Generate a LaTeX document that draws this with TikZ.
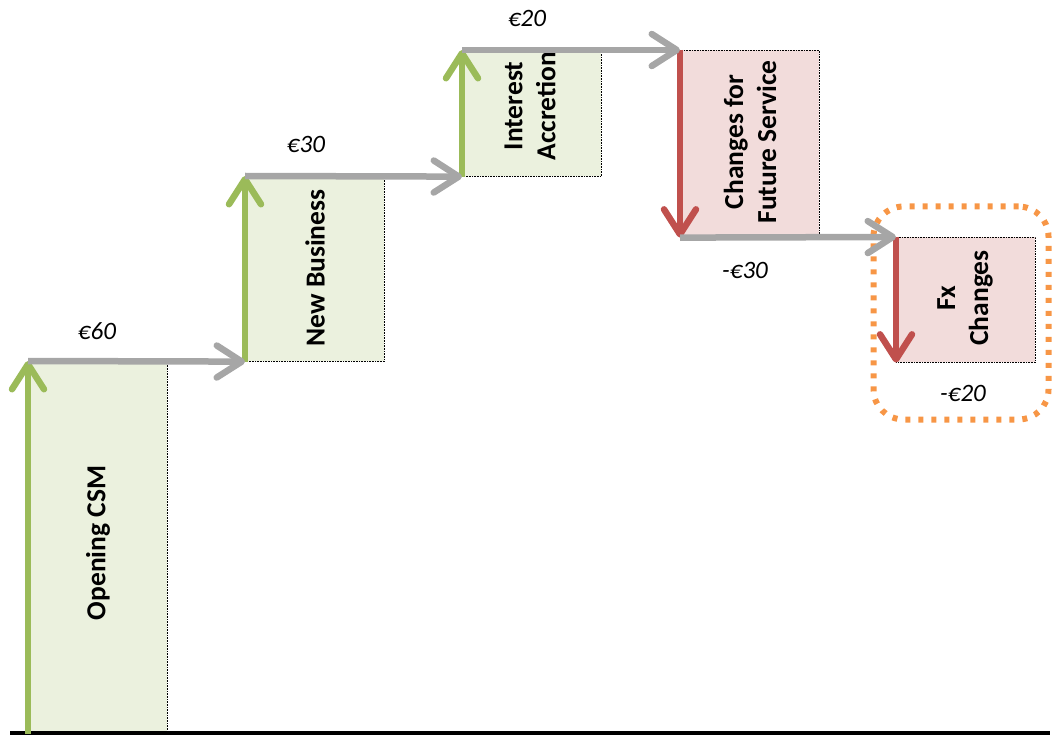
\documentclass[tikz,border=0pt]{standalone}
\usepackage{fontspec}
\setmainfont{Carlito}
\usetikzlibrary{arrows.meta}
\definecolor{upgreen}{HTML}{9BBB59}
\definecolor{downred}{HTML}{C0504D}
\definecolor{stepgrey}{HTML}{A6A6A6}
\definecolor{greenfill}{HTML}{EBF1DE}
\definecolor{redfill}{HTML}{F2DCDB}
\definecolor{hilite}{HTML}{F79646}
\tikzset{
  bar/.style={draw=black, densely dotted, line width=0.6pt, inner sep=0pt, anchor=north west},
  movearrow/.style={line width=6.5pt, -{Straight Barb[length=25pt, width=32pt, round]}},
  barlabel/.style={rotate=90, align=center, font=\fontsize{27.5}{33}\selectfont\bfseries},
  amount/.style={font=\fontsize{25}{30}\selectfont\itshape}
}
\begin{document}
\begin{tikzpicture}[x=1pt, y=-1pt]
\useasboundingbox (0,0) rectangle (1057,743);

% bars of the walk
\node[bar, fill=greenfill, minimum width=139pt, minimum height=372pt] (ocsm) at (28,361) {};
\node[bar, fill=greenfill, minimum width=139pt, minimum height=185pt] (nb) at (245,176) {};
\node[bar, fill=greenfill, minimum width=139pt, minimum height=126pt] (ia) at (462,50) {};
\node[bar, fill=redfill, minimum width=139pt, minimum height=187pt] (cfs) at (680,50) {};
\node[bar, fill=redfill, minimum width=139pt, minimum height=125pt] (fx) at (896,237) {};

% bar captions
\node[barlabel] (tocsm) at (98,543) {Opening CSM};
\node[barlabel] (tnb) at (315,268) {New Business};
\node[barlabel] (tia) at (530,106) {Interest\\Accretion};
\node[barlabel] (tcfs) at (750,142) {Changes for\\Future Service};
\node[barlabel] (tfx) at (965,298) {Fx\\Changes};

% base line
\coordinate (bl) at (10,733);
\coordinate (br) at (1050,733);
\draw[line width=4pt] (bl) -- (br);

% highlight around the last step
\node[draw=hilite, line width=6pt, dash pattern=on 5pt off 8pt, rounded corners=30pt,
      minimum width=175pt, minimum height=213pt, inner sep=0pt] (hl) at (961,313) {};

% vertical movements
\draw[movearrow, upgreen] (ocsm.south west) -- (ocsm.north west);
\draw[movearrow, upgreen] (nb.south west) -- (nb.north west);
\draw[movearrow, upgreen] (ia.south west) -- (ia.north west);
\draw[movearrow, downred] (cfs.north west) -- (cfs.south west);
\draw[movearrow, downred] (fx.north west) -- (fx.south west);

% horizontal steps
\draw[movearrow, stepgrey] (ocsm.north west) -- (nb.south west);
\draw[movearrow, stepgrey] (nb.north west) -- (ia.south west);
\draw[movearrow, stepgrey] (ia.north west) -- (cfs.north west);
\draw[movearrow, stepgrey] (cfs.south west) -- (fx.north west);

% amounts
\node[amount] (a1) at (97,331) {€60};
\node[amount] (a2) at (306,144) {€30};
\node[amount] (a3) at (527,18) {€20};
\node[amount] (a4) at (745,270) {-€30};
\node[amount] (a5) at (963,393) {-€20};
\end{tikzpicture}
\end{document}
